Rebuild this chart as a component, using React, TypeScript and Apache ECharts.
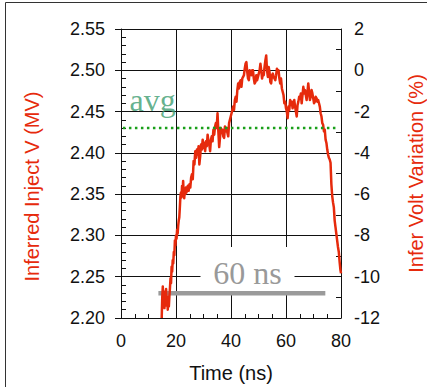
import React, { useEffect, useRef } from "react";
import * as echarts from "echarts";

// ---- data ----
const timeNs = [
  14.8, 15.0, 15.2, 15.4, 15.6, 15.8, 16.0, 16.2, 16.4, 16.6, 16.8, 17.0, 17.2, 17.4, 17.6, 17.8,
  18.0, 18.2, 18.4, 18.6, 18.8, 19.0, 19.2, 19.4, 19.6, 19.8, 20.0, 20.2, 20.4, 20.6, 20.8, 21.0,
  21.2, 21.4, 21.6, 21.8, 22.0, 22.2, 22.4, 22.6, 22.8, 23.0, 23.2, 23.4, 23.6, 23.8, 24.0, 24.3,
  24.6, 24.9, 25.2, 25.5, 25.8, 26.1, 26.4, 26.7, 27.0, 27.3, 27.6, 27.9, 28.2, 28.5, 28.8, 29.1,
  29.4, 29.7, 30.0, 30.3, 30.6, 30.9, 31.2, 31.5, 31.8, 32.1, 32.4, 32.7, 33.0, 33.3, 33.6, 33.9,
  34.2, 34.5, 34.8, 35.1, 35.4, 35.7, 36.0, 36.3, 36.6, 36.9, 37.2, 37.5, 37.8, 38.1, 38.4, 38.7,
  39.0, 39.3, 39.6, 39.9, 40.2, 40.5, 40.8, 41.1, 41.4, 41.7, 42.0, 42.3, 42.6, 42.9, 43.2, 43.5,
  43.8, 44.1, 44.4, 44.7, 45.0, 45.3, 45.6, 45.9, 46.2, 46.5, 46.8, 47.1, 47.4, 47.7, 48.0, 48.3,
  48.6, 48.9, 49.2, 49.5, 49.8, 50.1, 50.4, 50.7, 51.0, 51.3, 51.6, 51.9, 52.2, 52.5, 52.8, 53.1,
  53.4, 53.7, 54.0, 54.3, 54.6, 54.9, 55.2, 55.5, 55.8, 56.1, 56.4, 56.7, 57.0, 57.3, 57.6, 57.9,
  58.2, 58.5, 58.8, 59.1, 59.4, 59.7, 60.0, 60.3, 60.6, 60.9, 61.2, 61.5, 61.8, 62.1, 62.4, 62.7,
  63.0, 63.3, 63.6, 63.9, 64.2, 64.5, 64.8, 65.1, 65.4, 65.7, 66.0, 66.3, 66.6, 66.9, 67.2, 67.5,
  67.8, 68.1, 68.4, 68.7, 69.0, 69.3, 69.6, 69.9, 70.2, 70.5, 70.8, 71.1, 71.4, 71.7, 72.0, 72.3,
  72.6, 72.9, 73.2, 73.5, 73.8, 74.1, 74.4, 74.7, 75.0, 75.3, 75.6, 75.9, 76.2, 76.5, 76.8, 77.1,
  77.4, 77.7, 78.0, 78.3, 78.6, 78.9, 79.2, 79.5, 79.8, 80.0,
];

const injectMV = [
  2.200, 2.225, 2.238, 2.222, 2.232, 2.212, 2.228, 2.215, 2.235, 2.218, 2.226, 2.210, 2.222, 2.214, 2.226, 2.236,
  2.248, 2.242, 2.262, 2.256, 2.270, 2.266, 2.280, 2.276, 2.294, 2.288, 2.300, 2.296, 2.307, 2.302, 2.312, 2.318,
  2.322, 2.334, 2.347, 2.352, 2.346, 2.360, 2.352, 2.366, 2.350, 2.345, 2.356, 2.350, 2.358, 2.352, 2.356, 2.360,
  2.354, 2.362, 2.358, 2.370, 2.374, 2.368, 2.390, 2.386, 2.402, 2.394, 2.404, 2.398, 2.408, 2.386, 2.396, 2.410,
  2.404, 2.416, 2.406, 2.412, 2.402, 2.414, 2.408, 2.422, 2.414, 2.410, 2.402, 2.416, 2.420, 2.414, 2.428, 2.422,
  2.432, 2.436, 2.430, 2.448, 2.426, 2.407, 2.418, 2.430, 2.424, 2.428, 2.420, 2.418, 2.432, 2.426, 2.430, 2.424,
  2.420, 2.436, 2.440, 2.444, 2.448, 2.452, 2.456, 2.452, 2.464, 2.468, 2.462, 2.476, 2.484, 2.478, 2.486, 2.488,
  2.480, 2.490, 2.492, 2.494, 2.502, 2.508, 2.510, 2.498, 2.490, 2.488, 2.500, 2.496, 2.494, 2.500, 2.500, 2.490,
  2.484, 2.486, 2.494, 2.488, 2.492, 2.496, 2.500, 2.508, 2.500, 2.490, 2.496, 2.494, 2.504, 2.512, 2.518, 2.500,
  2.492, 2.504, 2.498, 2.486, 2.484, 2.494, 2.496, 2.492, 2.490, 2.488, 2.494, 2.502, 2.498, 2.500, 2.490, 2.484,
  2.490, 2.478, 2.474, 2.470, 2.460, 2.462, 2.454, 2.450, 2.442, 2.456, 2.452, 2.464, 2.458, 2.462, 2.454, 2.460,
  2.464, 2.456, 2.450, 2.444, 2.458, 2.462, 2.468, 2.466, 2.472, 2.460, 2.470, 2.480, 2.472, 2.476, 2.470, 2.464,
  2.474, 2.484, 2.474, 2.464, 2.468, 2.476, 2.472, 2.466, 2.460, 2.462, 2.468, 2.466, 2.462, 2.464, 2.460, 2.456,
  2.448, 2.444, 2.436, 2.434, 2.426, 2.428, 2.416, 2.412, 2.404, 2.398, 2.394, 2.392, 2.388, 2.362, 2.348, 2.340,
  2.334, 2.318, 2.310, 2.302, 2.294, 2.286, 2.280, 2.268, 2.258, 2.254,
];

const timeRange = [0, 80, 20]; // min, max, interval
const voltRange = [2.2, 2.55, 0.05];
const pctRange = [-12, 2, 2];

const avgLevel = 2.43;
const avgSpan = [0.7, 78];
const barLevel = 2.23;
const barSpan = [13.6, 74.3];
const avgLabelPos = [11.5, 2.464];
const spanLabelPos = [46, 2.2545];
const avgLabel = "avg";
const spanLabel = "60 ns";

const SANS = '"Liberation Sans", Arial, Helvetica, sans-serif';
const SERIF = '"Liberation Serif", "Times New Roman", serif';
const BLACK = "#111111";
const RED = "#e62a0c";

export default function App() {
  const ref = useRef<HTMLDivElement>(null);

  useEffect(() => {
    if (!ref.current) return;
    const chart = echarts.init(ref.current, undefined, { renderer: "svg" });

    const lineData = timeNs.map((t, i) => [t, injectMV[i]]);

    const xBase = {
      type: "value",
      position: "bottom",
      min: timeRange[0],
      max: timeRange[1],
      interval: timeRange[2],
    };
    const yLeftBase = {
      type: "value",
      position: "left",
      min: voltRange[0],
      max: voltRange[1],
      interval: voltRange[2],
    };
    const yRightBase = {
      type: "value",
      position: "right",
      min: pctRange[0],
      max: pctRange[1],
      interval: pctRange[2],
    };
    const tickOnly = {
      axisLine: { show: false },
      axisTick: { show: true, inside: false, length: 6, lineStyle: { color: BLACK, width: 1 } },
      axisLabel: { show: false },
      splitLine: { show: false },
      minorTick: { show: false },
    };

    const option: any = {
      animation: false,
      backgroundColor: "#ffffff",
      grid: {
        left: 121,
        right: 86,
        top: 29,
        bottom: 69,
        containLabel: false,
        outerBoundsMode: "none",
      },
      graphic: [
        {
          type: "rect",
          silent: true,
          shape: { x: 5.5, y: 2.5, width: 600, height: 600 },
          style: { fill: "none", stroke: "#333333", lineWidth: 1 },
        },
      ],
      xAxis: [
        {
          ...xBase,
          axisLine: { show: true, onZero: false, lineStyle: { color: BLACK, width: 1 } },
          axisTick: { show: true, inside: true, length: 5, lineStyle: { color: BLACK, width: 1 } },
          minorTick: { show: true, splitNumber: 4, length: 4, lineStyle: { color: BLACK, width: 1 } },
          splitLine: { show: true, lineStyle: { color: BLACK, width: 1 } },
          axisLabel: { margin: 14, fontSize: 18, fontFamily: SANS, color: BLACK },
          name: "Time (ns)",
          nameLocation: "middle",
          nameGap: 45,
          nameTextStyle: { fontSize: 20, fontFamily: SANS, color: BLACK },
        },
        { ...xBase, ...tickOnly },
      ],
      yAxis: [
        {
          ...yLeftBase,
          axisLine: { show: true, onZero: false, lineStyle: { color: BLACK, width: 1 } },
          axisTick: { show: true, inside: true, length: 5, lineStyle: { color: BLACK, width: 1 } },
          minorTick: { show: true, splitNumber: 5, length: 5, lineStyle: { color: BLACK, width: 1 } },
          splitLine: { show: true, lineStyle: { color: BLACK, width: 1 } },
          axisLabel: {
            margin: 16,
            fontSize: 18,
            fontFamily: SANS,
            color: BLACK,
            formatter: (v: number) => v.toFixed(2),
          },
          name: "Inferred Inject V (MV)",
          nameLocation: "middle",
          nameRotate: 90,
          nameGap: 79,
          nameTextStyle: { fontSize: 20, fontFamily: SANS, color: RED, padding: [0, 26, 0, 0] },
        },
        {
          ...yRightBase,
          axisLine: { show: true, onZero: false, lineStyle: { color: BLACK, width: 1 } },
          axisTick: { show: true, inside: true, length: 5, lineStyle: { color: BLACK, width: 1 } },
          minorTick: { show: true, splitNumber: 2, length: 5, lineStyle: { color: BLACK, width: 1 } },
          splitLine: { show: false },
          axisLabel: {
            margin: 13,
            fontSize: 18,
            fontFamily: SANS,
            color: BLACK,
            formatter: (v: number) => String(Math.round(v)),
          },
          name: "Infer Volt Variation (%)",
          nameLocation: "middle",
          nameRotate: 90,
          nameGap: 65,
          nameTextStyle: { fontSize: 20, fontFamily: SANS, color: RED },
        },
        { ...yLeftBase, ...tickOnly },
        { ...yRightBase, ...tickOnly },
      ],
      series: [
        {
          type: "custom",
          name: "spanLabel",
          xAxisIndex: 0,
          yAxisIndex: 0,
          clip: false,
          z: 3,
          data: [spanLabelPos],
          renderItem: (_params: any, api: any) => {
            const p = api.coord([api.value(0), api.value(1)]);
            return {
              type: "group",
              children: [
                {
                  type: "rect",
                  shape: { x: p[0] - 47, y: p[1] - 26, width: 94, height: 48 },
                  style: { fill: "#ffffff", stroke: null },
                },
                {
                  type: "text",
                  x: p[0],
                  y: p[1],
                  style: {
                    text: spanLabel,
                    fontFamily: SERIF,
                    fontSize: 32,
                    fill: "#999999",
                    align: "center",
                    verticalAlign: "middle",
                  },
                },
              ],
            };
          },
        },
        {
          type: "line",
          name: "bar60",
          xAxisIndex: 0,
          yAxisIndex: 0,
          data: [
            [barSpan[0], barLevel],
            [barSpan[1], barLevel],
          ],
          symbol: "none",
          lineStyle: { color: "#9a9a9a", width: 4.5, cap: "butt" },
          z: 4,
        },
        {
          type: "line",
          name: "inject",
          xAxisIndex: 0,
          yAxisIndex: 0,
          data: lineData,
          symbol: "none",
          showSymbol: false,
          lineStyle: { color: RED, width: 2.5, join: "round" },
          z: 5,
        },
        {
          type: "line",
          name: "avg",
          xAxisIndex: 0,
          yAxisIndex: 0,
          data: [
            [avgSpan[0], avgLevel],
            [avgSpan[1], avgLevel],
          ],
          symbol: "none",
          lineStyle: { color: "#1a9f1a", width: 2.5, type: [2.5, 3.5], cap: "butt" },
          z: 6,
        },
        {
          type: "scatter",
          name: "avgLabel",
          xAxisIndex: 0,
          yAxisIndex: 0,
          symbolSize: 1,
          itemStyle: { color: "rgba(0,0,0,0)" },
          z: 3,
          data: [
            {
              value: avgLabelPos,
              label: {
                show: true,
                position: "inside",
                formatter: avgLabel,
                fontFamily: SERIF,
                fontSize: 32,
                lineHeight: 32,
                color: "#3d9d70",
              },
            },
          ],
        },
      ],
    };

    chart.setOption(option);
    return () => {
      chart.dispose();
    };
  }, []);

  return (
    <div
      ref={ref}
      style={{
        position: "absolute",
        left: 0,
        top: 0,
        width: 427,
        height: 387,
        background: "#ffffff",
      }}
    />
  );
}
